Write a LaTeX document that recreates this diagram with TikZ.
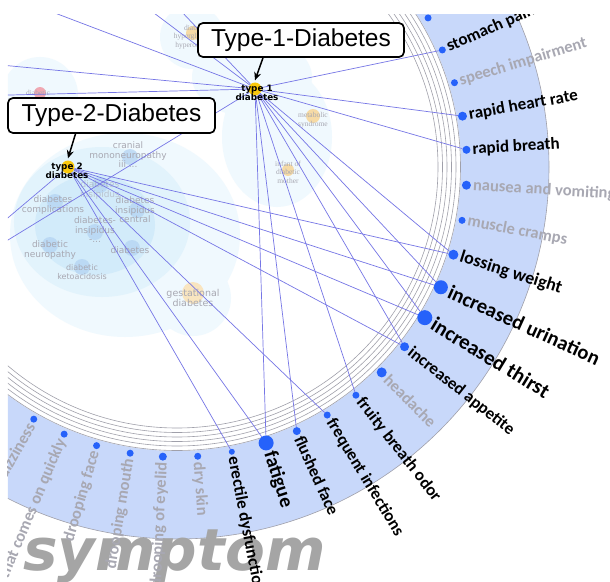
\documentclass[tikz,border=0pt]{standalone}
\usepackage{fontspec}
\usetikzlibrary{arrows.meta,positioning}
\newfontfamily\symfont{Carlito}
\newfontfamily\boxfont{Liberation Sans}
\newfontfamily\clufont{DejaVu Sans}
\newfontfamily\serfont{Liberation Serif}
\definecolor{linkblue}{RGB}{118,118,230}
\definecolor{dotblue}{RGB}{38,98,250}
\definecolor{bandblue}{RGB}{200,216,250}
\definecolor{ringgray}{RGB}{160,160,170}
\definecolor{fadegray}{RGB}{168,168,178}
\definecolor{diayellow}{RGB}{250,200,12}
\definecolor{cloudA}{RGB}{240,249,254}
\definecolor{cloudB}{RGB}{226,243,252}
\definecolor{cloudC}{RGB}{210,235,250}
\definecolor{blobblue}{RGB}{178,210,242}
\definecolor{blobtan}{RGB}{246,218,165}
\definecolor{blobpink}{RGB}{240,168,178}
\definecolor{wordgray}{RGB}{165,165,165}
\tikzset{
  link/.style={linkblue, line width=0.7pt},
  sdot/.style={circle, fill=dotblue, inner sep=0pt},
  slbl/.style={inner sep=0pt},
  dnode/.style={circle, fill=diayellow, inner sep=0pt, minimum size=13pt},
  dlabel/.style={font=\clufont\bfseries\fontsize{8.8}{9}\selectfont, align=center, inner sep=0pt},
  bgword/.style={font=\clufont\fontsize{9}{9.5}\selectfont, text=fadegray, align=center, inner sep=0pt},
  bgserif/.style={font=\serfont\fontsize{7.5}{8.5}\selectfont, text=fadegray, align=center, inner sep=0pt},
  callout/.style={draw, line width=1.7pt, rounded corners=5pt, fill=white, inner sep=0pt,
    font=\boxfont\fontsize{24.5}{24.5}\selectfont, minimum height=34pt, minimum width=206pt},
  callarrow/.style={line width=1.5pt, -{Stealth[length=8pt,width=7pt]}}
}
\def\rightsyms{23.8/stomach/stomach pain/17/black/3.5,
  16.9/speech/speech impairment/16.5/fadegray/3.5,
  10.1/rheart/rapid heart rate/17/black/4.5,
  3.4/rbreath/rapid breath/17/black/4,
  -3.6/nausea/nausea and vomiting/16.5/fadegray/4.5,
  -10.6/cramps/muscle cramps/16.5/fadegray/3.5,
  -17.6/weight/lossing weight/18/black/5,
  -24.5/urination/increased urination/20.5/black/7,
  -31.3/thirst/increased thirst/21/black/7.5,
  -38.3/appetite/increased appetite/17/black/4.5,
  -45.1/headache/headache/16.5/fadegray/5,
  -51.9/fruity/fruity breath odor/17/black/3.5,
  -58.8/infections/frequent infections/17/black/3.5,
  -65.6/flushed/flushed face/17/black/4,
  -72.1/fatigue/fatigue/20/black/7.5,
  -79.1/erectile/erectile dysfunction/17/black/3,
  -85.9/dryskin/dry skin/16.5/fadegray/3.5}
\def\leftsyms{-92.8/eyelid/drooping of eyelid/16.5/fadegray/4,
  -99.3/mouth/drooping mouth/16.5/fadegray/3.5,
  -106.1/face/drooping face/16.5/fadegray/3.5,
  -112.9/quickly/that comes on quickly/16.5/fadegray/3.5,
  -119.6/dizzy/dizziness/16.5/fadegray/3.5}
\begin{document}
\begin{tikzpicture}[x=1pt, y=1pt]
  \useasboundingbox[fill=white] (-177,-414) rectangle (433,167);
  \begin{scope}
    \clip (-169,-414) rectangle (433,152);
    % clouds
    \fill[cloudA] (-52,-68) ellipse (115 and 102);
    \fill[cloudA] (100,30) ellipse (55 and 70);
    \fill[cloudA] (75,90) ellipse (60 and 40);
    \fill[cloudA] (15,130) circle (32);
    \fill[cloudA] (-137,72) circle (38);
    \fill[cloudA] (16,-131) circle (38);
    \fill[cloudB] (-75,-55) ellipse (88 and 75);
    \fill[cloudC] (-82,-58) ellipse (60 and 50);
    \foreach \p in {(-47,10),(-77,-18),(-122,-35),(-40,-43),(-82,-65),(-127,-78),(-45,-81),(-95,-100)}
      \fill[blobblue, opacity=0.7] \p circle (8);
    \fill[blobtan] (136,51) circle (7);
    \fill[blobtan] (111,-3) circle (6);
    \fill[blobtan] (16,134) circle (7);
    \fill[blobtan!70] (16,-126) circle (11);
    \fill[blobpink] (-137,74) circle (6);
    \node[bgword] (cranial) at (-49,12) {cranial\\mononeuropathy\\iii ...};
    \node[bgword, opacity=0.6] (insip) at (-77,-23) {diabetes\\insipidus};
    \node[bgword] (compl) at (-124,-38) {diabetes\\complications};
    \node[bgword] (central) at (-42,-43) {diabetes\\insipidus\\central};
    \node[bgword] (dashins) at (-82,-63) {diabetes-\\insipidus\\-...};
    \node[bgword] (neuro) at (-127,-83) {diabetic\\neuropathy};
    \node[bgword] (diab) at (-47,-83) {diabetes};
    \node[bgword, font=\clufont\fontsize{8}{9}\selectfont] (keto) at (-95,-105) {diabetic\\ketoacidosis};
    \node[bgword, font=\clufont\fontsize{9.5}{10}\selectfont] (gest) at (16,-131) {gestational\\diabetes};
    \node[bgserif] (metab) at (136,47) {metabolic\\syndrome};
    \node[bgserif] (infant) at (111,-5) {infant of\\diabetic\\mother};
    \node[bgserif] (pinkdia) at (-139,74) {diabetic};
    \node[bgserif] (hyper) at (19,130) {diabetic\\hyperglycemic\\hyperosmolar};
    % ring
    \fill[bandblue, even odd rule] (0,0) circle (372) circle (284);
    \draw[ringgray, line width=0.6pt] (0,0) circle (372);
    \foreach \r in {261,265.5,...,284}
      \draw[ringgray, line width=0.6pt] (0,0) circle (\r);
    \node[anchor=base west, inner sep=0pt, text=wordgray,
      font=\clufont\bfseries\itshape\fontsize{58}{58}\selectfont] (word) at (-154,-403) {symptom};
    \node[sdot, minimum size=7pt] (s-top) at (30.7:292) {};
    \foreach \ang/\nm/\txt/\fs/\col/\dsz in \rightsyms {
      \node[sdot, minimum size=2*\dsz*1pt] (s-\nm) at (\ang:290) {};
      \pgfmathsetmacro\rr{292+\dsz}
      \node[slbl, text=\col, rotate=\ang, anchor=west,
        font=\symfont\bfseries\fontsize{\fs}{\fs}\selectfont] (l-\nm) at (\ang:\rr) {\txt};
    }
    \foreach \ang/\nm/\txt/\fs/\col/\dsz in \leftsyms {
      \node[sdot, minimum size=2*\dsz*1pt] (s-\nm) at (\ang:290) {};
      \pgfmathsetmacro\rr{292+\dsz}
      \node[slbl, text=\col, rotate=\ang+180, anchor=east,
        font=\symfont\bfseries\fontsize{\fs}{\fs}\selectfont] (l-\nm) at (\ang:\rr) {\txt};
    }
    % diseases
    \node[dnode] (t1) at (78,78) {};
    \node[dnode] (t2) at (-109,0) {};
    \coordinate (o1) at (-130,157);
    \coordinate (o2) at (-27,157);
    \coordinate (o3) at (3,157);
    \coordinate (o4) at (-187,103);
    \coordinate (o5) at (-187,71.5);
    \coordinate (o6) at (-187,-84);
    \coordinate (o7) at (-187,-66);
    \foreach \s in {stomach,rheart,rbreath,weight,urination,thirst,appetite,fruity,flushed,fatigue}
      \draw[link] (t1) -- (s-\s);
    \foreach \s in {weight,urination,thirst,appetite,infections,fatigue,erectile}
      \draw[link] (t2) -- (s-\s);
    \foreach \o in {o1,o2,o3,o4,o5,o6}
      \draw[link] (t1) -- (\o);
    \draw[link] (t2) -- (o7);
    \node[dlabel] (t1-lbl) at (80,74) {type 1\\diabetes};
    \node[dlabel] (t2-lbl) at (-110,-4) {type 2\\diabetes};
  \end{scope}
  \node[callout] (c1) at (124,127) {Type-1-Diabetes};
  \node[callout, minimum width=207pt, minimum height=35pt] (c2) at (-65.5,51.5) {Type-2-Diabetes};
  \draw[callarrow] ([xshift=-38pt]c1.south) -- ([yshift=2pt]t1.north);
  \draw[callarrow] ([xshift=-36pt]c2.south) -- ([yshift=2pt]t2.north);
\end{tikzpicture}
\end{document}
